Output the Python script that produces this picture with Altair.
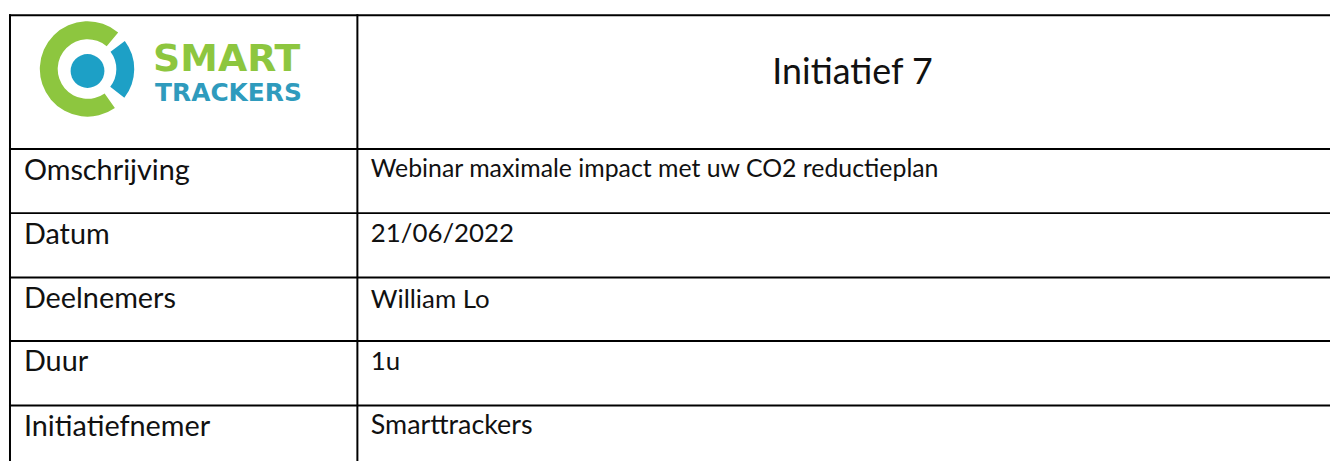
import math
import altair as alt
import pandas as pd

# ---------------- content ----------------
header_title = ["Initiatief 7"]
labels = ["Omschrijving", "Datum", "Deelnemers", "Duur", "Initiatiefnemer"]
values = [
    "Webinar maximale impact met uw CO2 reductieplan",
    "21/06/2022",
    "William Lo",
    "1u",
    "Smarttrackers",
]
logo_words = ["SMART", "TRACKERS"]

# ---------------- layout (page pixels) ----------------
PAGE_W, PAGE_H, MARGIN = 1338, 461, 8
W, H = PAGE_W - MARGIN, PAGE_H - MARGIN

row_lines = [14, 148.5, 213, 277.7, 341.7, 406.5]
col_lines = [10, 359.5]
table_right, table_bottom = 1345, 470

left_x, right_x = 24, 373
left_base = [180, 244, 308, 372, 437]
right_base = [177, 242, 308, 371, 435]
left_size = 29
right_size = [25, 26, 26, 26, 27]

GREEN = "#8DC63F"
BLUE = "#1DA0C6"
TEXT = "#111111"

xs = alt.Scale(domain=[MARGIN, PAGE_W], range=[0, W], nice=False, zero=False)
ys = alt.Scale(domain=[MARGIN, PAGE_H], range=[0, H], nice=False, zero=False)


def X(f):
    return alt.X(f, type="quantitative", scale=xs, axis=None)


def Y(f):
    return alt.Y(f, type="quantitative", scale=ys, axis=None)


# ---------------- grid lines ----------------
hlines = pd.DataFrame({"y": row_lines, "x1": [col_lines[0] - 1] * len(row_lines),
                       "x2": [table_right] * len(row_lines)})
vlines = pd.DataFrame({"x": col_lines, "y1": [row_lines[0] - 1] * len(col_lines),
                       "y2": [table_bottom] * len(col_lines)})

h_rule = alt.Chart(hlines).mark_rule(color="black", strokeWidth=2).encode(
    x=X("x1"), x2="x2", y=Y("y"))
v_rule = alt.Chart(vlines).mark_rule(color="black", strokeWidth=2).encode(
    x=X("x"), y=Y("y1"), y2="y2")

# ---------------- table text ----------------
rows = pd.DataFrame({
    "label": labels,
    "value": values,
    "lx": [left_x] * len(labels),
    "rx": [right_x] * len(labels),
    "lb": left_base,
    "rb": right_base,
    "rs": right_size,
})

left_text = alt.Chart(rows).mark_text(
    align="left", baseline="alphabetic", font="Lato", fontSize=left_size, color=TEXT
).encode(x=X("lx"), y=Y("lb"), text="label:N")

right_text = alt.Chart(rows).mark_text(
    align="left", baseline="alphabetic", font="Lato", color=TEXT
).encode(x=X("rx"), y=Y("rb"), text="value:N",
         size=alt.Size("rs:Q", scale=None, legend=None))

title_df = pd.DataFrame({"t": header_title, "x": [777], "y": [83]})
title_text = alt.Chart(title_df).mark_text(
    align="left", baseline="alphabetic", font="Lato", fontSize=36, color=TEXT
).encode(x=X("x"), y=Y("y"), text="t:N")

# ---------------- logo ----------------
cx, cy = 88, 68
center = pd.DataFrame({"x": [cx], "y": [cy]})
dot_c = pd.DataFrame({"x": [88], "y": [70]})

deg = math.pi / 180
green_c = alt.Chart(center).mark_arc(
    theta=145 * deg, theta2=400 * deg, radius=48, radius2=30, color=GREEN
).encode(x=X("x"), y=Y("y"))
blue_arc = alt.Chart(center).mark_arc(
    theta=53 * deg, theta2=128 * deg, radius=47, radius2=29, color=BLUE
).encode(x=X("x"), y=Y("y"))
blue_dot = alt.Chart(dot_c).mark_arc(
    theta=0, theta2=2 * math.pi, radius=17, color=BLUE
).encode(x=X("x"), y=Y("y"))

words = pd.DataFrame({"w": logo_words, "x": [154, 156], "y": [70, 100],
                      "s": [38, 25], "c": [GREEN, "#2F9BBD"]})
logo_text = alt.Chart(words).mark_text(
    align="left", baseline="alphabetic", font="DejaVu Sans", fontWeight="bold"
).encode(x=X("x"), y=Y("y"), text="w:N",
         size=alt.Size("s:Q", scale=None, legend=None),
         color=alt.Color("c:N", scale=None, legend=None))

chart = alt.layer(
    green_c, blue_arc, blue_dot, logo_text,
    h_rule, v_rule, left_text, right_text, title_text,
).properties(
    width=W, height=H, padding=0, autosize=alt.AutoSizeParams(type="none"),
    background="white",
).configure_view(stroke=None)

chart.save("out.html", embed_options={"renderer": "svg", "actions": False})
